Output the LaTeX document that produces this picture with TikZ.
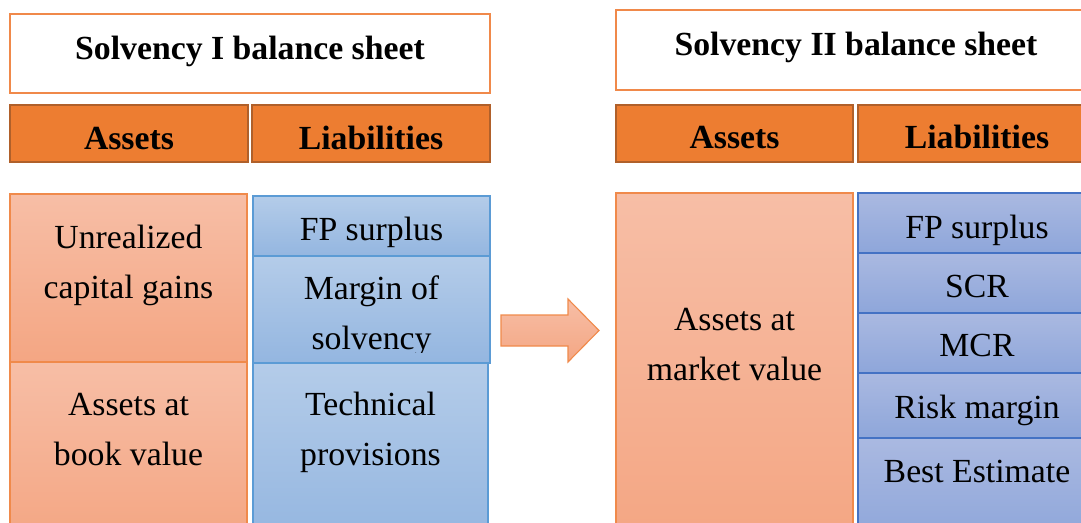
\documentclass[tikz,border=0pt]{standalone}
\usepackage{fontspec}
\setmainfont{Liberation Serif}
\usepackage{tikz}
\usetikzlibrary{positioning}

\definecolor{hdrorange}{HTML}{ED7D31}
\definecolor{hdrline}{HTML}{B0602A}
\definecolor{titleline}{HTML}{F0894A}
\definecolor{salmontop}{HTML}{F7BEA6}
\definecolor{salmonbot}{HTML}{F4A683}
\definecolor{salmonline}{HTML}{F08A4B}
\definecolor{bluetop}{HTML}{B4CCE9}
\definecolor{bluebot}{HTML}{94B6E0}
\definecolor{blueline}{HTML}{5B9BD5}
\definecolor{violettop}{HTML}{AAB9E1}
\definecolor{violetbot}{HTML}{8EA6DA}
\definecolor{violetline}{HTML}{4472C4}

\begin{document}
\begin{tikzpicture}[x=0.025cm,y=-0.025cm,
  titlebox/.style={draw=titleline,line width=1.1pt,fill=white,inner sep=0pt},
  headbox/.style={draw=hdrline,line width=1.4pt,fill=hdrorange,inner sep=0pt},
  assetbox/.style={draw=salmonline,line width=0.8pt,top color=salmontop,bottom color=salmonbot,inner sep=0pt},
  liabbox/.style={draw=blueline,line width=0.8pt,top color=bluetop,bottom color=bluebot,inner sep=0pt},
  newbox/.style={draw=violetline,line width=0.8pt,top color=violettop,bottom color=violetbot,inner sep=0pt},
  bold/.style={font=\fontsize{24}{35.5}\selectfont\bfseries,anchor=base},
  plain/.style={font=\fontsize{24}{35.5}\selectfont,align=center,anchor=base}]
\path[use as bounding box] (0,0) rectangle (1081,522);
\clip (0,0) rectangle (1081,522);

		% Solvency I
		\node[titlebox,minimum width=12cm,minimum height=1.975cm] (oldtitle) at (250,53.5) {};
		\node[bold] (oldtitletxt) at (250,59) {Solvency I balance sheet};
		\node[headbox,minimum width=5.95cm,minimum height=1.425cm] (oldassets) at (129,133.5) {};
		\node[bold] (oldassetstxt) at (129,149) {Assets};
		\node[headbox,minimum width=5.95cm,minimum height=1.425cm] (oldliab) at (371,133.5) {};
		\node[bold] (oldliabtxt) at (371,149) {Liabilities};

		% Solvency I assets
		\node[assetbox,minimum width=5.925cm,minimum height=4.2cm] (gains) at (128.5,278) {};
		\node[plain] (gainstxt) at (128.5,298) {Unrealized\\capital gains};
		\node[assetbox,minimum width=5.925cm,minimum height=4.45cm] (book) at (128.5,451) {};
		\node[plain] (booktxt) at (128.5,465) {Assets at\\book value};

		% Solvency I liabilities
		\node[liabbox,minimum width=5.925cm,minimum height=1.5cm] (oldfp) at (371.5,226) {};
		\node[plain] (oldfptxt) at (371.5,240) {FP surplus};
		\node[liabbox,minimum width=5.925cm,minimum height=2.675cm] (margin) at (371.5,309.5) {};
		\begin{scope}
		\clip (253,256) rectangle (490,352);
		\node[plain] (margintxt) at (371.5,349) {Margin of\\solvency};
		\end{scope}
		\node[liabbox,minimum width=5.875cm,minimum height=4.425cm] (techprov) at (370.5,451.5) {};
		\node[plain] (techprovtxt) at (370.5,465) {Technical\\provisions};

		% Arrow
		\draw[salmonline,line width=0.8pt,top color=salmontop,bottom color=salmonbot]
		  (501,315) -- (568,315) -- (568,299) -- (599,330.5) -- (568,362) -- (568,346) -- (501,346) -- cycle;

		% Solvency II
		\node[titlebox,minimum width=12cm,minimum height=2cm] (newtitle) at (856,50) {};
		\node[bold] (newtitletxt) at (856,55) {Solvency II balance sheet};
		\node[headbox,minimum width=5.925cm,minimum height=1.425cm] (newassets) at (734.5,133.5) {};
		\node[bold] (newassetstxt) at (734.5,148) {Assets};
		\node[headbox,minimum width=5.95cm,minimum height=1.425cm] (newliab) at (977,133.5) {};
		\node[bold] (newliabtxt) at (977,148) {Liabilities};

		% Solvency II assets
		\node[assetbox,minimum width=5.925cm,minimum height=8.675cm] (market) at (734.5,366.5) {};
		\node[plain] (markettxt) at (734.5,380) {Assets at\\market value};

		% Solvency II liabilities
		\node[newbox,minimum width=5.95cm,minimum height=1.5cm] (newfp) at (977,223) {};
		\node[plain] (newfptxt) at (977,238) {FP surplus};
		\node[newbox,minimum width=5.95cm,minimum height=1.5cm] (scr) at (977,283) {};
		\node[plain] (scrtxt) at (977,297) {SCR};
		\node[newbox,minimum width=5.95cm,minimum height=1.5cm] (mcr) at (977,343) {};
		\node[plain] (mcrtxt) at (977,356) {MCR};
		\node[newbox,minimum width=5.95cm,minimum height=1.625cm] (riskm) at (977,405.5) {};
		\node[plain] (riskmtxt) at (977,418) {Risk margin};
		\node[newbox,minimum width=5.95cm,minimum height=2.55cm] (best) at (977,489) {};
		\node[plain] (besttxt) at (977,482) {Best Estimate};
\end{tikzpicture}
\end{document}
